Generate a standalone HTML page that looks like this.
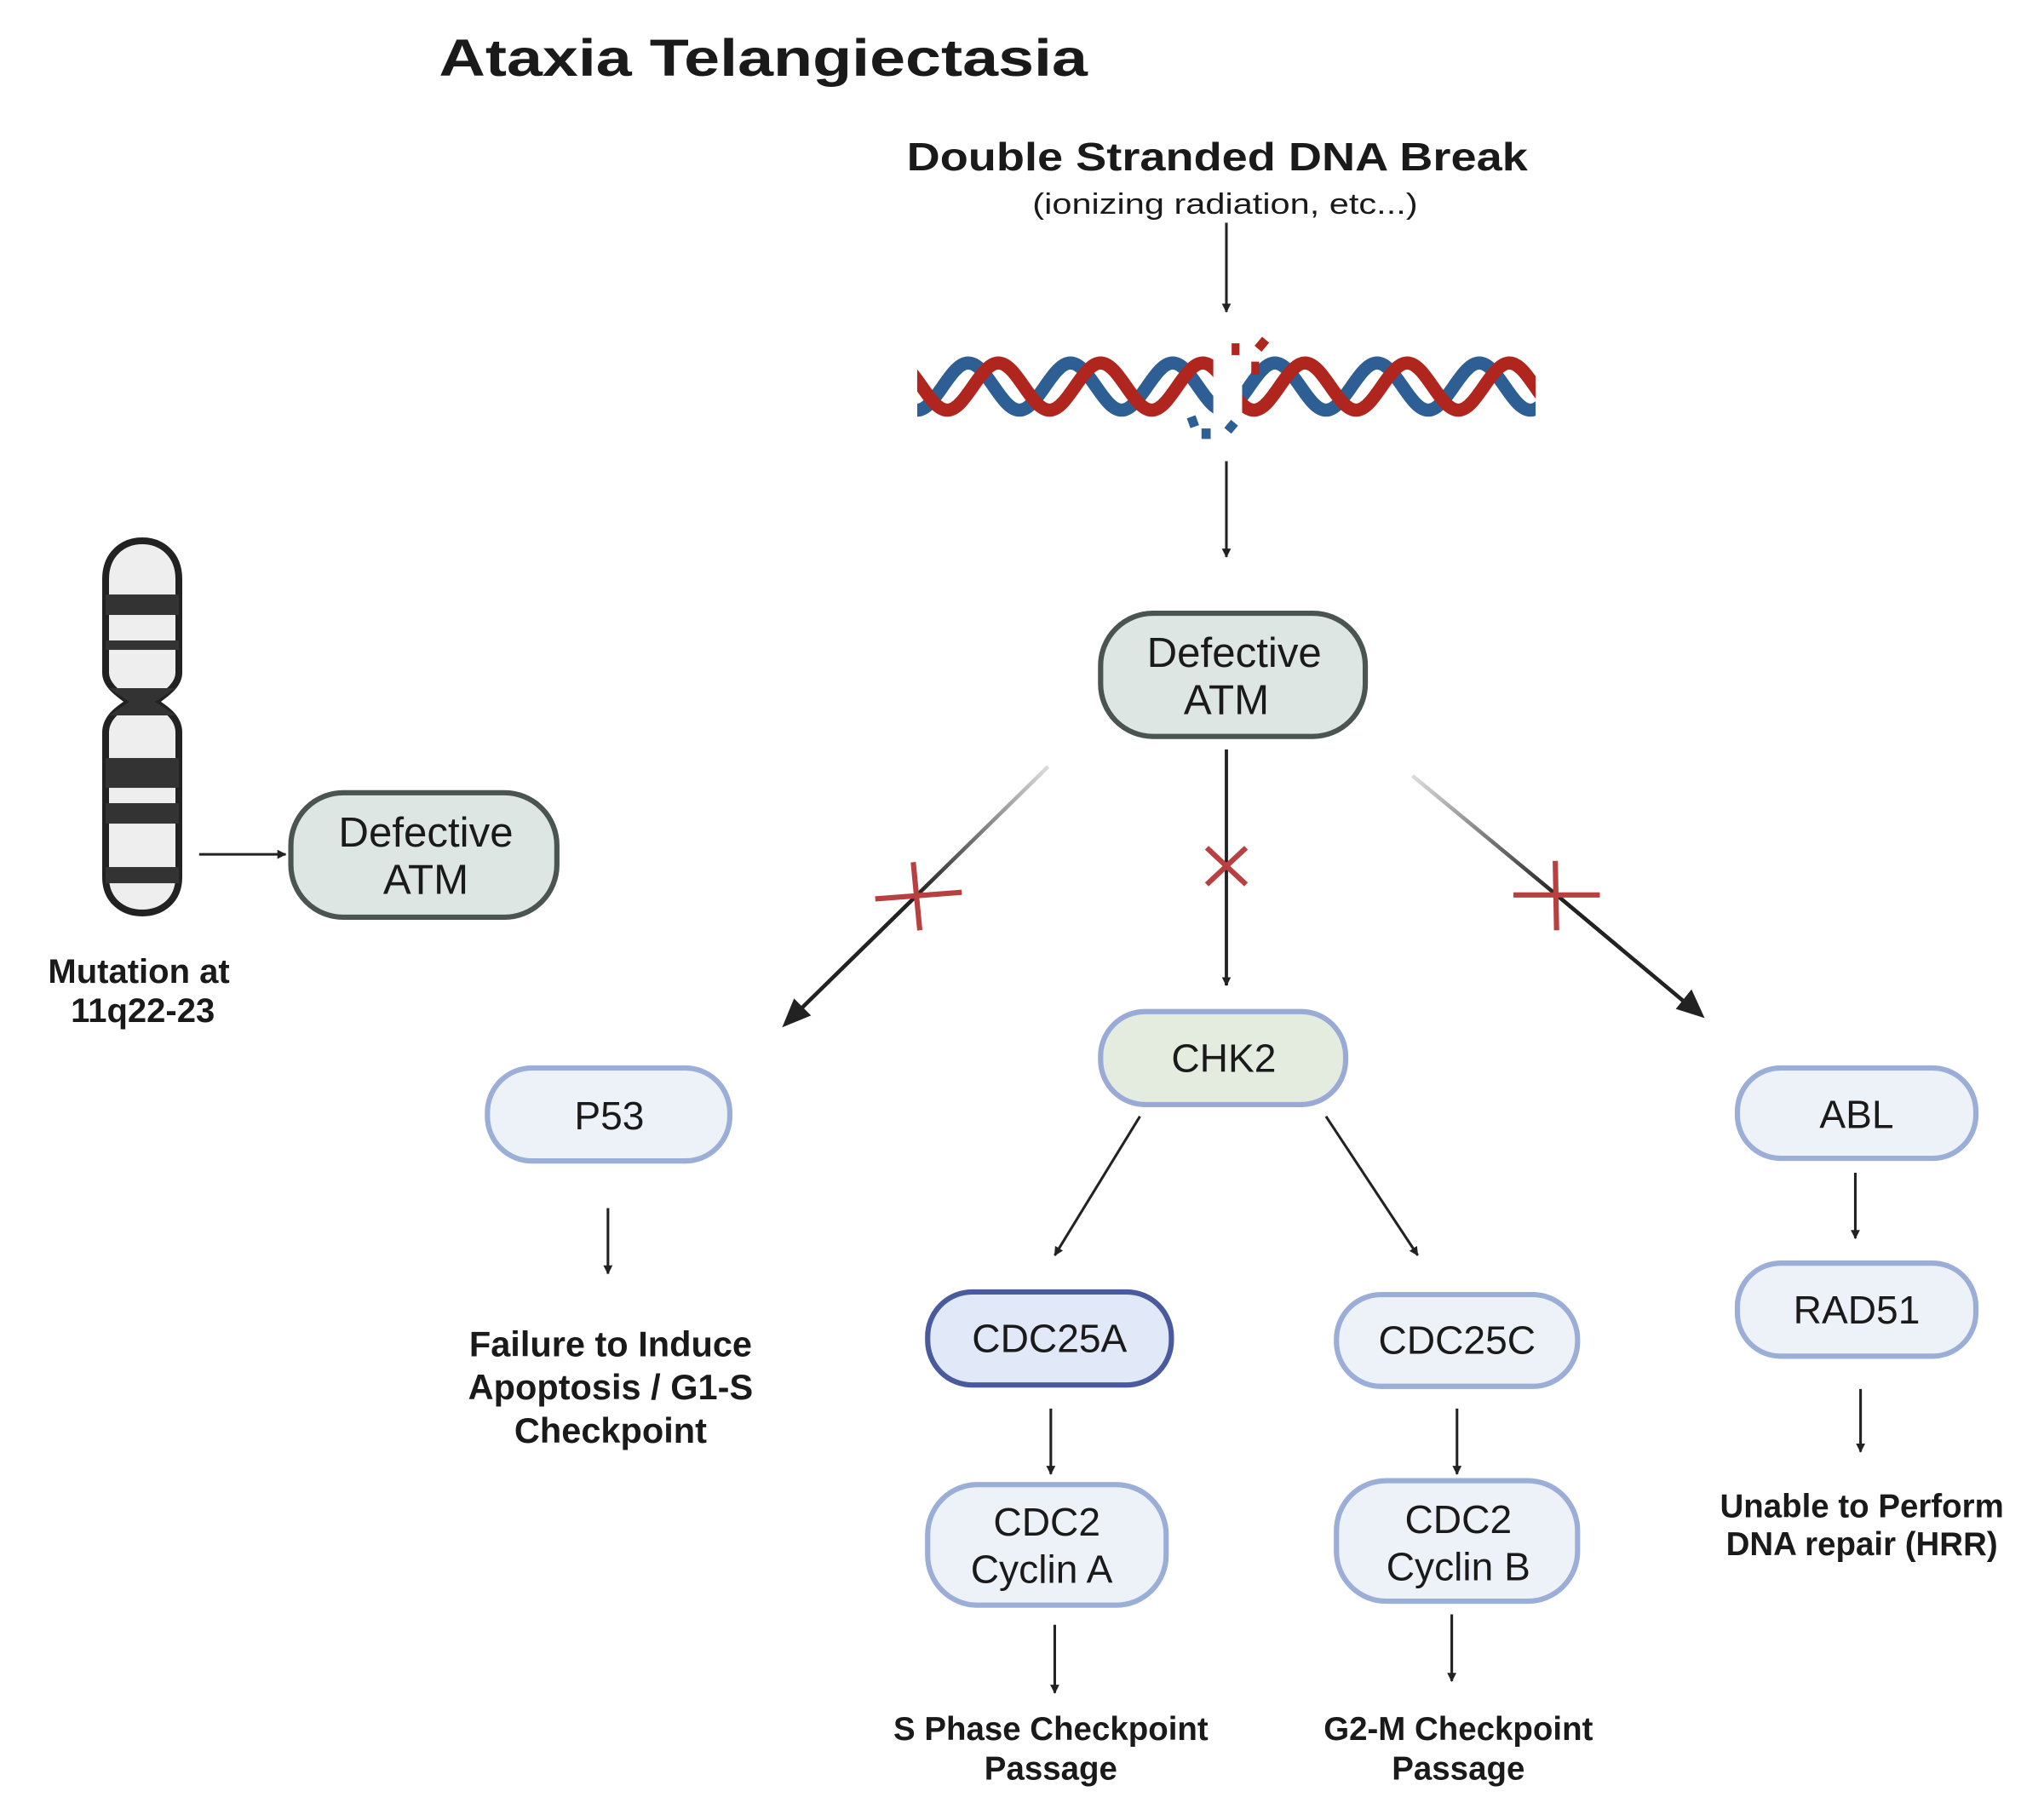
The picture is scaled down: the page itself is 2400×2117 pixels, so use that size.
<!DOCTYPE html>
<html><head><meta charset="utf-8"><style>
html,body{margin:0;padding:0;background:#fff;}
svg{display:block;}
text{font-family:"Liberation Sans",Arial,sans-serif;fill:#1a1a1a;}
.b{font-weight:bold;}
</style></head><body>
<svg width="2400" height="2117" viewBox="0 0 1560 1376" preserveAspectRatio="none" xmlns="http://www.w3.org/2000/svg">
<defs>
<marker id="a" viewBox="0 0 10 10" refX="9" refY="5" markerWidth="7" markerHeight="7" markerUnits="userSpaceOnUse" orient="auto"><path d="M0,0 L10,5 L0,10 z" fill="#222"/></marker>
<linearGradient id="gl" x1="800" y1="585" x2="700" y2="683" gradientUnits="userSpaceOnUse"><stop offset="0" stop-color="#ddd"/><stop offset="1" stop-color="#222"/></linearGradient>
<linearGradient id="gr" x1="1078" y1="592" x2="1188" y2="683" gradientUnits="userSpaceOnUse"><stop offset="0" stop-color="#ddd"/><stop offset="1" stop-color="#222"/></linearGradient>
<clipPath id="hc"><rect x="700" y="250" width="472" height="100"/></clipPath>
</defs>

<text class="b" x="335" y="58" font-size="40" textLength="495" lengthAdjust="spacingAndGlyphs">Ataxia Telangiectasia</text>
<text class="b" x="692" y="130" font-size="30" textLength="474" lengthAdjust="spacingAndGlyphs">Double Stranded DNA Break</text>
<text x="788" y="163" font-size="22" textLength="294" lengthAdjust="spacingAndGlyphs">(ionizing radiation, etc...)</text>

<line x1="936" y1="170" x2="936" y2="238" stroke="#222" stroke-width="2" marker-end="url(#a)"/>

<!-- DNA helix -->
<g clip-path="url(#hc)" fill="none" stroke-width="10">
<path stroke="#2d5f94" d="M700,313 C714,313 725,277 739,277 C753,277 764,313 778,313 C792,313 803,277 817,277 C831,277 842,313 856,313 C870,313 881,277 895,277 C909,277 920,313 934,313 C948,313 959,277 973,277 C987,277 998,313 1012,313 C1026,313 1037,277 1051,277 C1065,277 1076,313 1090,313 C1104,313 1115,277 1129,277 C1143,277 1154,313 1168,313 C1182,313 1193,277 1207,277"/>
<path stroke="#b0261e" d="M684,277 C698,277 709,313 723,313 C737,313 748,277 762,277 C776,277 787,313 801,313 C815,313 826,277 840,277 C854,277 865,313 879,313 C893,313 904,277 918,277 C932,277 943,313 957,313 C971,313 982,277 996,277 C1010,277 1021,313 1035,313 C1049,313 1060,277 1074,277 C1088,277 1099,313 1113,313 C1127,313 1138,277 1152,277 C1166,277 1177,313 1191,313"/>
</g>
<rect x="926" y="268" width="22" height="52" fill="#fff"/>
<g fill="#b0261e"><rect x="940" y="262" width="6" height="9"/><rect x="960" y="258" width="7" height="9" transform="rotate(40 963 262)"/><rect x="955" y="276" width="6" height="10"/></g>
<g fill="#2d5f94"><rect x="907" y="318" width="7" height="8" transform="rotate(-20 910 322)"/><rect x="917" y="327" width="7" height="8"/><rect x="936" y="322" width="7" height="8" transform="rotate(40 940 326)"/></g>

<line x1="936" y1="352" x2="936" y2="425" stroke="#222" stroke-width="2" marker-end="url(#a)"/>

<!-- top Defective ATM -->
<rect x="840" y="468" width="202" height="94" rx="40" fill="#dde6e3" stroke="#4a5552" stroke-width="4"/>
<text x="942" y="509" font-size="32" text-anchor="middle">Defective</text>
<text x="936" y="545" font-size="32" text-anchor="middle">ATM</text>

<!-- chromosome -->
<g transform="scale(0.65)">
<path d="M167,635 C145,635 124,650 124,680 L124,790 C124,805 140,815 152,824 C140,832 124,842 124,860 L124,1030 C124,1058 145,1072 167,1072 C189,1072 210,1058 210,1030 L210,860 C210,842 194,832 182,824 C194,815 210,805 210,790 L210,680 C210,650 189,635 167,635 Z" fill="#eee" stroke="#222" stroke-width="8"/>
<g fill="#333">
<rect x="124" y="698" width="86" height="24"/>
<rect x="124" y="752" width="86" height="11"/>
<path d="M128,808 L206,808 L182,824 L206,840 L128,840 L152,824 Z"/>
<rect x="124" y="890" width="86" height="35"/>
<rect x="124" y="943" width="86" height="24"/>
<rect x="124" y="1018" width="86" height="19"/>
</g>
</g>
<line x1="152" y1="652" x2="218" y2="652" stroke="#222" stroke-width="2" marker-end="url(#a)"/>

<rect x="222" y="605" width="203" height="95" rx="40" fill="#dde6e3" stroke="#4a5552" stroke-width="4"/>
<text x="325" y="646" font-size="32" text-anchor="middle">Defective</text>
<text x="325" y="682" font-size="32" text-anchor="middle">ATM</text>

<text class="b" x="106" y="750" font-size="26" text-anchor="middle">Mutation at</text>
<text class="b" x="109" y="780" font-size="26" text-anchor="middle">11q22-23</text>

<!-- diagonal arrows -->
<line x1="800" y1="585" x2="700" y2="683" stroke="url(#gl)" stroke-width="3"/>
<line x1="700" y1="683" x2="603" y2="778" stroke="#222" stroke-width="3"/>
<path d="M597,784 L606,762 L619,775 Z" fill="#222"/>
<line x1="1078" y1="592" x2="1188" y2="683" stroke="url(#gr)" stroke-width="3"/>
<line x1="1188" y1="683" x2="1292" y2="770" stroke="#222" stroke-width="3"/>
<path d="M1301,777 L1279,770 L1291,755 Z" fill="#222"/>
<line x1="936" y1="572" x2="936" y2="752" stroke="#222" stroke-width="2.5" marker-end="url(#a)"/>

<g stroke="#b84040" stroke-width="4">
<line x1="668" y1="686" x2="734" y2="681"/><line x1="697" y1="658" x2="702" y2="710"/>
<line x1="1155" y1="683" x2="1221" y2="683"/><line x1="1187" y1="657" x2="1188" y2="710"/>
<line x1="921" y1="647" x2="951" y2="675"/><line x1="951" y1="647" x2="921" y2="675"/>
</g>

<!-- CHK2 -->
<rect x="840" y="772" width="187" height="71" rx="34" fill="#e3ecdf" stroke="#9aaad6" stroke-width="4"/>
<text x="934" y="818" font-size="30" text-anchor="middle">CHK2</text>

<!-- P53 -->
<rect x="372" y="815" width="185" height="71" rx="34" fill="#edf2f8" stroke="#9aaed8" stroke-width="4"/>
<text x="465" y="862" font-size="30" text-anchor="middle">P53</text>
<line x1="464" y1="922" x2="464" y2="972" stroke="#222" stroke-width="2" marker-end="url(#a)"/>
<text class="b" x="466" y="1035" font-size="27" text-anchor="middle">Failure to Induce</text>
<text class="b" x="466" y="1068" font-size="27" text-anchor="middle">Apoptosis / G1-S</text>
<text class="b" x="466" y="1101" font-size="27" text-anchor="middle">Checkpoint</text>

<!-- ABL -->
<rect x="1326" y="815" width="182" height="69" rx="33" fill="#edf2f8" stroke="#9aaed8" stroke-width="4"/>
<text x="1417" y="861" font-size="30" text-anchor="middle">ABL</text>
<line x1="1416" y1="895" x2="1416" y2="945" stroke="#222" stroke-width="2" marker-end="url(#a)"/>
<rect x="1326" y="964" width="182" height="71" rx="33" fill="#edf2f8" stroke="#9aaed8" stroke-width="4"/>
<text x="1417" y="1010" font-size="30" text-anchor="middle">RAD51</text>
<line x1="1420" y1="1060" x2="1420" y2="1108" stroke="#222" stroke-width="2" marker-end="url(#a)"/>
<text class="b" x="1421" y="1158" font-size="25" text-anchor="middle">Unable to Perform</text>
<text class="b" x="1421" y="1187" font-size="25" text-anchor="middle">DNA repair (HRR)</text>

<!-- CHK2 branches -->
<line x1="870" y1="852" x2="805" y2="958" stroke="#222" stroke-width="2" marker-end="url(#a)"/>
<line x1="1012" y1="852" x2="1082" y2="958" stroke="#222" stroke-width="2" marker-end="url(#a)"/>

<rect x="708" y="986" width="186" height="71" rx="34" fill="#e1e8f7" stroke="#4a5a9e" stroke-width="4"/>
<text x="801" y="1032" font-size="30" text-anchor="middle">CDC25A</text>
<rect x="1020" y="988" width="184" height="70" rx="34" fill="#edf2f8" stroke="#9aaed8" stroke-width="4"/>
<text x="1112" y="1033" font-size="30" text-anchor="middle">CDC25C</text>

<line x1="802" y1="1075" x2="802" y2="1125" stroke="#222" stroke-width="2" marker-end="url(#a)"/>
<line x1="1112" y1="1075" x2="1112" y2="1125" stroke="#222" stroke-width="2" marker-end="url(#a)"/>

<rect x="708" y="1133" width="182" height="92" rx="38" fill="#edf2f8" stroke="#9aaed8" stroke-width="4"/>
<text x="799" y="1172" font-size="30" text-anchor="middle">CDC2</text>
<text x="795" y="1208" font-size="30" text-anchor="middle">Cyclin A</text>
<rect x="1020" y="1130" width="184" height="92" rx="38" fill="#edf2f8" stroke="#9aaed8" stroke-width="4"/>
<text x="1113" y="1170" font-size="30" text-anchor="middle">CDC2</text>
<text x="1113" y="1206" font-size="30" text-anchor="middle">Cyclin B</text>

<line x1="805" y1="1240" x2="805" y2="1292" stroke="#222" stroke-width="2" marker-end="url(#a)"/>
<line x1="1108" y1="1232" x2="1108" y2="1283" stroke="#222" stroke-width="2" marker-end="url(#a)"/>

<text class="b" x="802" y="1328" font-size="25" text-anchor="middle">S Phase Checkpoint</text>
<text class="b" x="802" y="1358" font-size="25" text-anchor="middle">Passage</text>
<text class="b" x="1113" y="1328" font-size="25" text-anchor="middle">G2-M Checkpoint</text>
<text class="b" x="1113" y="1358" font-size="25" text-anchor="middle">Passage</text>
</svg>
</body></html>
